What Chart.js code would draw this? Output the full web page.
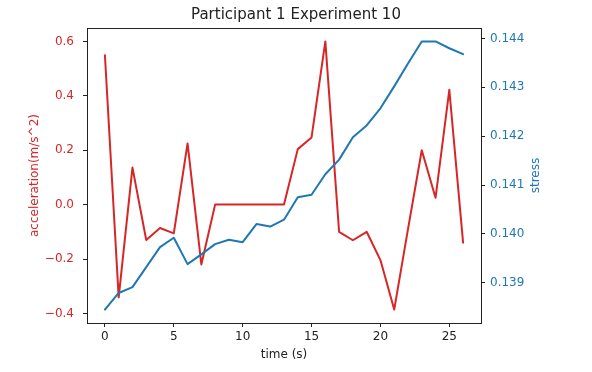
<!DOCTYPE html>
<html>
<head>
<meta charset="utf-8">
<script src="https://cdn.jsdelivr.net/npm/chart.js@4/dist/chart.umd.min.js"></script>
<style>
  html, body { margin: 0; padding: 0; background: #ffffff; }
  canvas { display: block; }
</style>
</head>
<body>
<canvas id="expChart" width="592" height="372"></canvas>
<script>
const timeS = [0, 1, 2, 3, 4, 5, 6, 7, 8, 9, 10, 11, 12, 13, 14, 15, 16, 17, 18, 19, 20, 21, 22, 23, 24, 25, 26];
const acceleration = [0.549, -0.341, 0.136, -0.130, -0.086, -0.106, 0.225, -0.220, 0, 0, 0, 0, 0, 0,
  0.204, 0.247, 0.600, -0.100, -0.131, -0.100, -0.204, -0.386, -0.090, 0.200, 0.025, 0.422, -0.140];
const stress = [0.13845, 0.13879, 0.13891, 0.13932, 0.13973, 0.13992, 0.13938, 0.13958, 0.13979,
  0.13988, 0.13983, 0.14020, 0.14015, 0.14029, 0.14075, 0.14080, 0.14122, 0.14152, 0.14198,
  0.14222, 0.14257, 0.14302, 0.14349, 0.14394, 0.14394, 0.14380, 0.14368];

const timeTicks = [0, 5, 10, 15, 20, 25];
const accelTicks = [-0.4, -0.2, 0.0, 0.2, 0.4, 0.6];
const stressTicks = [0.139, 0.140, 0.141, 0.142, 0.143, 0.144];

const RED = "#d62728";
const BLUE = "#1f77b4";
const DARK = "#222222";
const FONT = "'DejaVu Sans', sans-serif";

// matplotlib style 5% margins
function padRange(values) {
  const lo = Math.min(...values);
  const hi = Math.max(...values);
  const m = (hi - lo) * 0.05;
  return { min: lo - m, max: hi + m };
}

const xRange = padRange(timeS);
const accelRange = padRange(acceleration);
const stressRange = padRange(stress);

function fixedTicks(list) {
  return function (scale) {
    scale.ticks = list.map((v) => ({ value: v }));
  };
}

const frameAndLabel = {
  id: "frameAndLabel",
  afterDraw(chart) {
    const { ctx, chartArea } = chart;
    ctx.save();
    ctx.strokeStyle = DARK;
    ctx.lineWidth = 1;
    ctx.beginPath();
    ctx.moveTo(chartArea.left, chartArea.top + 0.5);
    ctx.lineTo(chartArea.right, chartArea.top + 0.5);
    ctx.stroke();

    // right axis label, reads bottom to top like matplotlib
    ctx.translate(536, (chartArea.top + chartArea.bottom) / 2);
    ctx.rotate(-Math.PI / 2);
    ctx.fillStyle = BLUE;
    ctx.font = "12px " + FONT;
    ctx.textAlign = "center";
    ctx.textBaseline = "middle";
    ctx.fillText("stress", 0, 0);
    ctx.restore();
  },
};

const expChart = new Chart(document.getElementById("expChart"), {
  type: "line",
  data: {
    datasets: [
      {
        label: "acceleration",
        data: timeS.map((t, i) => ({ x: t, y: acceleration[i] })),
        borderColor: RED,
        borderWidth: 2,
        borderJoinStyle: "round",
        borderCapStyle: "round",
        pointRadius: 0,
        tension: 0,
        yAxisID: "y",
        order: 1,
      },
      {
        label: "stress",
        data: timeS.map((t, i) => ({ x: t, y: stress[i] })),
        borderColor: BLUE,
        borderWidth: 2,
        borderJoinStyle: "round",
        borderCapStyle: "round",
        pointRadius: 0,
        tension: 0,
        yAxisID: "y2",
        order: 0,
      },
    ],
  },
  options: {
    responsive: false,
    animation: false,
    devicePixelRatio: 1,
    layout: { padding: 0 },
    plugins: {
      legend: { display: false },
      tooltip: { enabled: false },
      title: {
        display: true,
        text: "Participant 1 Experiment 10",
        color: DARK,
        font: { family: FONT, size: 15, weight: "normal" },
        padding: { top: 6, bottom: 4 },
      },
    },
    scales: {
      x: {
        type: "linear",
        min: xRange.min,
        max: xRange.max,
        afterBuildTicks: fixedTicks(timeTicks),
        afterFit: (scale) => { scale.height = 49; },
        ticks: {
          color: DARK,
          padding: 3,
          font: { family: FONT, size: 12 },
          callback: (v) => String(v),
        },
        grid: { drawOnChartArea: false, drawTicks: true, tickLength: 4, tickColor: DARK },
        border: { display: true, color: DARK, width: 1 },
        title: {
          display: true,
          text: "time (s)",
          color: DARK,
          font: { family: FONT, size: 12 },
          padding: { top: 0, bottom: 10 },
        },
      },
      y: {
        position: "left",
        min: accelRange.min,
        max: accelRange.max,
        afterBuildTicks: fixedTicks(accelTicks),
        afterFit: (scale) => { scale.width = 87; },
        ticks: {
          color: RED,
          padding: 9,
          font: { family: FONT, size: 12 },
          callback: (v) => v.toFixed(1).replace("-", "\u2212"),
        },
        grid: { drawOnChartArea: false, drawTicks: true, tickLength: 4, tickColor: DARK },
        border: { display: true, color: DARK, width: 1 },
        title: {
          display: true,
          text: "acceleration(m/s^2)",
          color: RED,
          font: { family: FONT, size: 12 },
          padding: { top: 28, bottom: 0 },
        },
      },
      y2: {
        position: "right",
        min: stressRange.min,
        max: stressRange.max,
        afterBuildTicks: fixedTicks(stressTicks),
        afterFit: (scale) => { scale.width = 111; },
        ticks: {
          color: BLUE,
          padding: 5,
          font: { family: FONT, size: 12 },
          callback: (v) => v.toFixed(3),
        },
        grid: { drawOnChartArea: false, drawTicks: true, tickLength: 4, tickColor: DARK },
        border: { display: true, color: DARK, width: 1 },
      },
    },
  },
  plugins: [frameAndLabel],
});
</script>
</body>
</html>
